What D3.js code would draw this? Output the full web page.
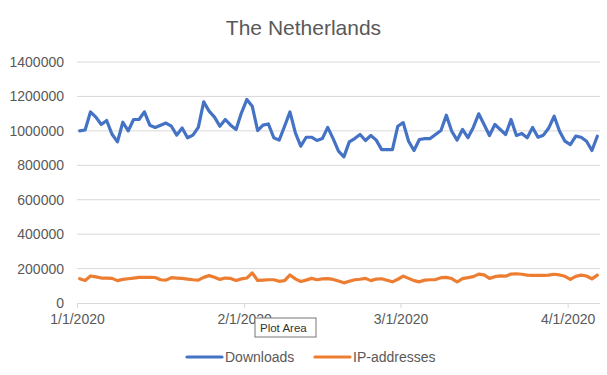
<!DOCTYPE html>
<html>
<head>
<meta charset="utf-8">
<script src="https://cdn.jsdelivr.net/npm/d3@7"></script>
<style>
  body { margin: 0; background: #fff; }
  text { font-family: "Liberation Sans", Arial, sans-serif; }
</style>
</head>
<body>
<div id="chart"></div>
<script>
// daily values, 1/1/2020 .. 4/6/2020
const startDate = '2020-01-01'
const downloads = [
  1000000, 1005000, 1110000, 1080000, 1037000, 1060000, 980000, 936000, 1050000, 1000000,
  1066000, 1066000, 1110000, 1033000, 1020000, 1033000, 1045000, 1027000, 975000, 1017000,
  960000, 975000, 1020000, 1168000, 1115000, 1080000, 1027000, 1066000, 1033000, 1008000,
  1105000, 1182000, 1143000, 1002000, 1033000, 1040000, 960000, 946000, 1027000, 1110000,
  988000, 911000, 963000, 963000, 944000, 955000, 1020000, 955000, 882000, 849000,
  936000, 955000, 979000, 944000, 973000, 946000, 891000, 891000, 891000, 1027000,
  1048000, 940000, 886000, 950000, 955000, 955000, 979000, 1002000, 1091000, 998000,
  946000, 1008000, 960000, 1020000, 1099000, 1037000, 973000, 1037000, 1008000, 979000,
  1066000, 973000, 985000, 960000, 1020000, 963000, 975000, 1017000, 1085000, 998000,
  940000, 920000, 969000, 963000, 940000, 886000, 969000
]
const ipAddresses = [
  141000, 131000, 157000, 152000, 145000, 145000, 143000, 130000, 137000, 141000,
  145000, 149000, 149000, 149000, 148000, 135000, 133000, 147000, 145000, 143000,
  139000, 135000, 133000, 149000, 159000, 150000, 137000, 145000, 143000, 131000,
  140000, 145000, 175000, 131000, 133000, 135000, 135000, 126000, 130000, 163000,
  140000, 125000, 133000, 143000, 135000, 140000, 142000, 137000, 128000, 117000,
  126000, 135000, 138000, 143000, 130000, 139000, 141000, 132000, 123000, 138000,
  156000, 143000, 130000, 123000, 133000, 135000, 136000, 147000, 149000, 142000,
  122000, 142000, 147000, 153000, 168000, 163000, 143000, 153000, 158000, 156000,
  168000, 170000, 167000, 162000, 161000, 160000, 160000, 162000, 167000, 163000,
  155000, 137000, 155000, 162000, 157000, 140000, 162000
]
const seriesNames = ['Downloads', 'IP-addresses']
const seriesColors = ['#4472C4', '#ED7D31']
const xTicks = ['2020-01-01', '2020-02-01', '2020-03-01', '2020-04-01']
const yTicks = [0, 200000, 400000, 600000, 800000, 1000000, 1200000, 1400000]

const width = 607, height = 375
const margin = {top: 62, right: 7, bottom: 72, left: 77}

const svg = d3.select('#chart').append('svg')
  .attr('width', width)
  .attr('height', height)

const start = new Date(startDate + 'T00:00:00Z')
const days = downloads.map((d, i) => d3.utcDay.offset(start, i))

const x = d3.scaleUtc()
  .domain([start, d3.utcDay.offset(start, downloads.length)])
  .range([margin.left, width - margin.right])
const y = d3.scaleLinear()
  .domain([0, 1400000])
  .range([height - margin.bottom, margin.top])

// title
svg.append('text')
  .attr('x', width / 2)
  .attr('y', 35)
  .attr('text-anchor', 'middle')
  .attr('fill', '#595959')
  .style('font-size', '21px')
  .text('The Netherlands')

// grid
svg.append('g').selectAll('line').data(yTicks.slice(1))
  .enter().append('line')
  .attr('x1', margin.left)
  .attr('x2', width - margin.right)
  .attr('y1', d => y(d))
  .attr('y2', d => y(d))
  .attr('stroke', '#d9d9d9')
  .attr('stroke-width', 1)

// y axis labels
const yAxis = svg.append('g')
  .attr('transform', `translate(${margin.left}, 0)`)
  .call(d3.axisLeft(y).tickValues(yTicks).tickSize(0).tickPadding(13).tickFormat(d3.format('d')))
yAxis.select('.domain').remove()
yAxis.selectAll('text')
  .attr('fill', '#595959')
  .style('font-size', '14px')

// x axis
const xAxis = svg.append('g')
  .attr('transform', `translate(0, ${y(0)})`)
  .call(d3.axisBottom(x)
    .tickValues(xTicks.map(d => new Date(d + 'T00:00:00Z')))
    .tickSize(5)
    .tickPadding(6)
    .tickFormat(d3.utcFormat('%-m/%-d/%Y')))
xAxis.select('.domain').attr('stroke', '#d9d9d9').attr('d', `M${margin.left},0.5H${width - margin.right}`)
xAxis.selectAll('.tick line').attr('stroke', '#d9d9d9')
xAxis.selectAll('text')
  .attr('fill', '#595959')
  .style('font-size', '14px')

// lines
const line = d3.line()
  .x((d, i) => x(d3.utcHour.offset(days[i], 12)))
  .y(d => y(d))

;[downloads, ipAddresses].forEach((s, k) => {
  svg.append('path')
    .datum(s)
    .attr('fill', 'none')
    .attr('stroke', seriesColors[k])
    .attr('stroke-width', 3.2)
    .attr('stroke-linejoin', 'round')
    .attr('stroke-linecap', 'round')
    .attr('d', line)
})

// legend
const legendX = [187, 315]
const legend = svg.append('g').selectAll('g').data(seriesNames)
  .enter().append('g')
  .attr('transform', (d, i) => `translate(${legendX[i]}, 357)`)
legend.append('line')
  .attr('x1', 0).attr('x2', 35)
  .attr('stroke', (d, i) => seriesColors[i])
  .attr('stroke-width', 3.2)
  .attr('stroke-linecap', 'round')
legend.append('text')
  .attr('x', 38)
  .attr('dy', '0.35em')
  .attr('fill', '#595959')
  .style('font-size', '14px')
  .text(d => d)

// "Plot Area" tooltip shown in the screenshot, covering part of the 2/1/2020 label
const tip = svg.append('g').attr('transform', 'translate(255, 318)')
tip.append('rect')
  .attr('width', 61).attr('height', 19)
  .attr('fill', '#fff')
  .attr('stroke', '#767676')
tip.append('text')
  .attr('x', 5).attr('y', 14)
  .attr('fill', '#333')
  .style('font-size', '11.5px')
  .text('Plot Area')
</script>
</body>
</html>
